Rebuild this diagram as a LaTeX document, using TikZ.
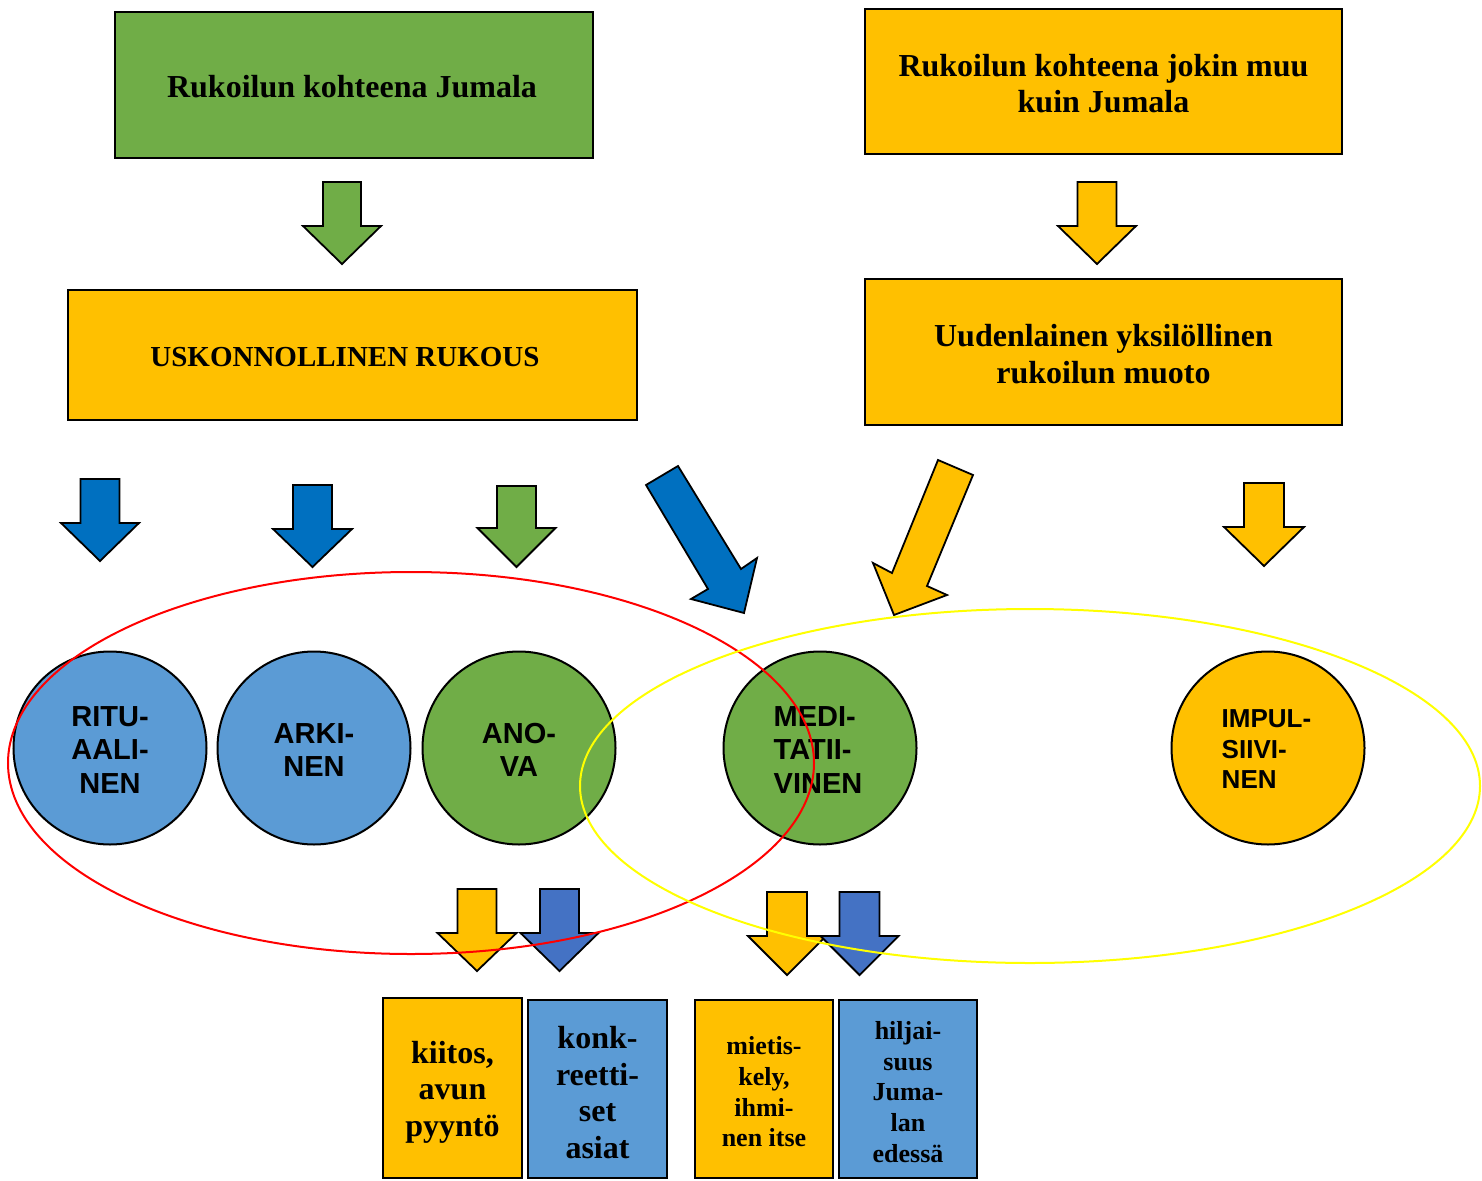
\documentclass[tikz,border=0pt]{standalone}
\usepackage{fontspec}
\setmainfont{Liberation Serif}
\setsansfont{Liberation Sans}
\definecolor{cgreen}{HTML}{70AD47}
\definecolor{corange}{HTML}{FFC000}
\definecolor{cdblue}{HTML}{0070C0}
\definecolor{clblue}{HTML}{5B9BD5}
\definecolor{cmblue}{HTML}{4472C4}
\definecolor{cred}{HTML}{FF0000}
\definecolor{cyell}{HTML}{FFFF00}
\newcommand{\blkdown}[7]{%
  \draw[blkarrow,fill=#7] (#1-#2,#3) -- (#1+#2,#3) -- (#1+#2,#4) -- (#1+#5,#4) -- (#1,#6) -- (#1-#5,#4) -- (#1-#2,#4) -- cycle;}
\begin{document}
\begin{tikzpicture}[x=1pt,y=-1pt,
  box/.style={draw=black,line width=2pt,inner sep=0pt,align=center,font=\bfseries\fontsize{32}{36.5}\selectfont},
  smallbox/.style={box,font=\bfseries\fontsize{26}{30.7}\selectfont},
  boxtext/.style={inner sep=0pt,align=center,font=\bfseries\fontsize{32}{36.5}\selectfont},
  smalltext/.style={boxtext,font=\bfseries\fontsize{26}{30.7}\selectfont},
  circ/.style={circle,draw=black,line width=2pt,minimum size=193pt,inner sep=0pt,align=center,font=\sffamily\bfseries\fontsize{29}{33.5}\selectfont},
  blkarrow/.style={draw=black,line width=1.8pt,line join=miter},
  ring/.style={line width=2pt}]
\useasboundingbox (0,0) rectangle (1482,1180);

% top boxes
\node[box,fill=cgreen,minimum width=478pt,minimum height=146pt] (g1) at (354,85) {};
\node[boxtext] (g1t) at (352,87) {Rukoilun kohteena Jumala};
\node[box,fill=corange,minimum width=477pt,minimum height=145pt] (o1) at (1103.5,81.5) {};
\node[boxtext] (o1t) at (1103.5,83.5) {Rukoilun kohteena jokin muu\\kuin Jumala};
\node[box,fill=corange,minimum width=569pt,minimum height=130pt] (usk) at (352.5,355) {};
\node[boxtext,font=\bfseries\fontsize{29}{33}\selectfont] (uskt) at (345,357) {USKONNOLLINEN RUKOUS};
\node[box,fill=corange,minimum width=477pt,minimum height=146pt] (uud) at (1103.5,352) {};
\node[boxtext] (uudt) at (1103.5,354) {Uudenlainen yksilöllinen\\rukoilun muoto};

% arrows between top boxes
\blkdown{342}{19}{182}{226}{39}{264}{cgreen}
\blkdown{1097}{19.5}{182}{226}{39}{264}{corange}

% row of arrows above circles
\blkdown{100}{19.5}{479}{523}{39}{561}{cdblue}
\blkdown{312.5}{19.5}{485}{529}{39.5}{567}{cdblue}
\blkdown{516.5}{19.5}{486}{528}{39}{567}{cgreen}
\blkdown{1264}{20}{483}{527}{40}{566}{corange}
\draw[blkarrow,fill=cdblue] (646,485) -- (708,589) -- (691,599) -- (744,613) -- (757,558) -- (741,569) -- (678,466) -- cycle;
\draw[blkarrow,fill=corange] (938,460) -- (892,573) -- (873,563) -- (894,615) -- (947,595) -- (927,586) -- (973,475) -- cycle;

% circles
\node[circ,fill=clblue] (rit) at (110,748) {};
\node[circ,fill=clblue] (ark) at (314,748) {};
\node[circ,fill=cgreen] (ano) at (519,748) {};
\node[circ,fill=cgreen] (med) at (820,748) {};
\node[circ,fill=corange] (imp) at (1268,748) {};
\begin{scope}[every node/.style={inner sep=0pt,font=\sffamily\bfseries\fontsize{29}{33.5}\selectfont}]
\node[align=center] (ritt) at (110,750) {RITU-\\AALI-\\NEN};
\node[align=center] (arkt) at (314,750) {ARKI-\\NEN};
\node[align=center] (anot) at (519,750) {ANO-\\VA};
\node[align=left] (medt) at (818,750) {MEDI-\\TATII-\\VINEN};
\node[align=left,font=\sffamily\bfseries\fontsize{26}{30.5}\selectfont] (impt) at (1266.5,749.5) {IMPUL-\\SIIVI-\\NEN};
\end{scope}

% small arrows below
\blkdown{477}{19.5}{889}{933}{39.5}{971}{corange}
\blkdown{559.5}{19.5}{889}{933}{39}{971}{cmblue}
\blkdown{787}{20}{892}{936}{39}{975}{corange}
\blkdown{859.5}{20}{892}{936}{39}{975}{cmblue}

% bottom boxes
\node[box,fill=corange,minimum width=139pt,minimum height=180pt] (kii) at (452.5,1088) {};
\node[box,fill=clblue,minimum width=139pt,minimum height=178pt] (kon) at (597.5,1089) {};
\node[box,fill=corange,minimum width=138pt,minimum height=178pt] (mie) at (764,1089) {};
\node[box,fill=clblue,minimum width=138pt,minimum height=178pt] (hil) at (908,1089) {};
\node[boxtext] (kiit) at (452.5,1092) {kiitos,\\avun\\pyyntö};
\node[boxtext] (kont) at (597.5,1092.5) {konk-\\reetti-\\set\\asiat};
\node[smalltext] (miet) at (764,1092) {mietis-\\kely,\\ihmi-\\nen itse};
\node[smalltext] (hilt) at (908,1092) {hiljai-\\suus\\Juma-\\lan\\edessä};

% ellipses
\draw[ring,draw=cred] (411,763) ellipse [x radius=403pt, y radius=191pt];
\draw[ring,draw=cyell] (1030,786) ellipse [x radius=450pt, y radius=177pt];
\end{tikzpicture}
\end{document}
